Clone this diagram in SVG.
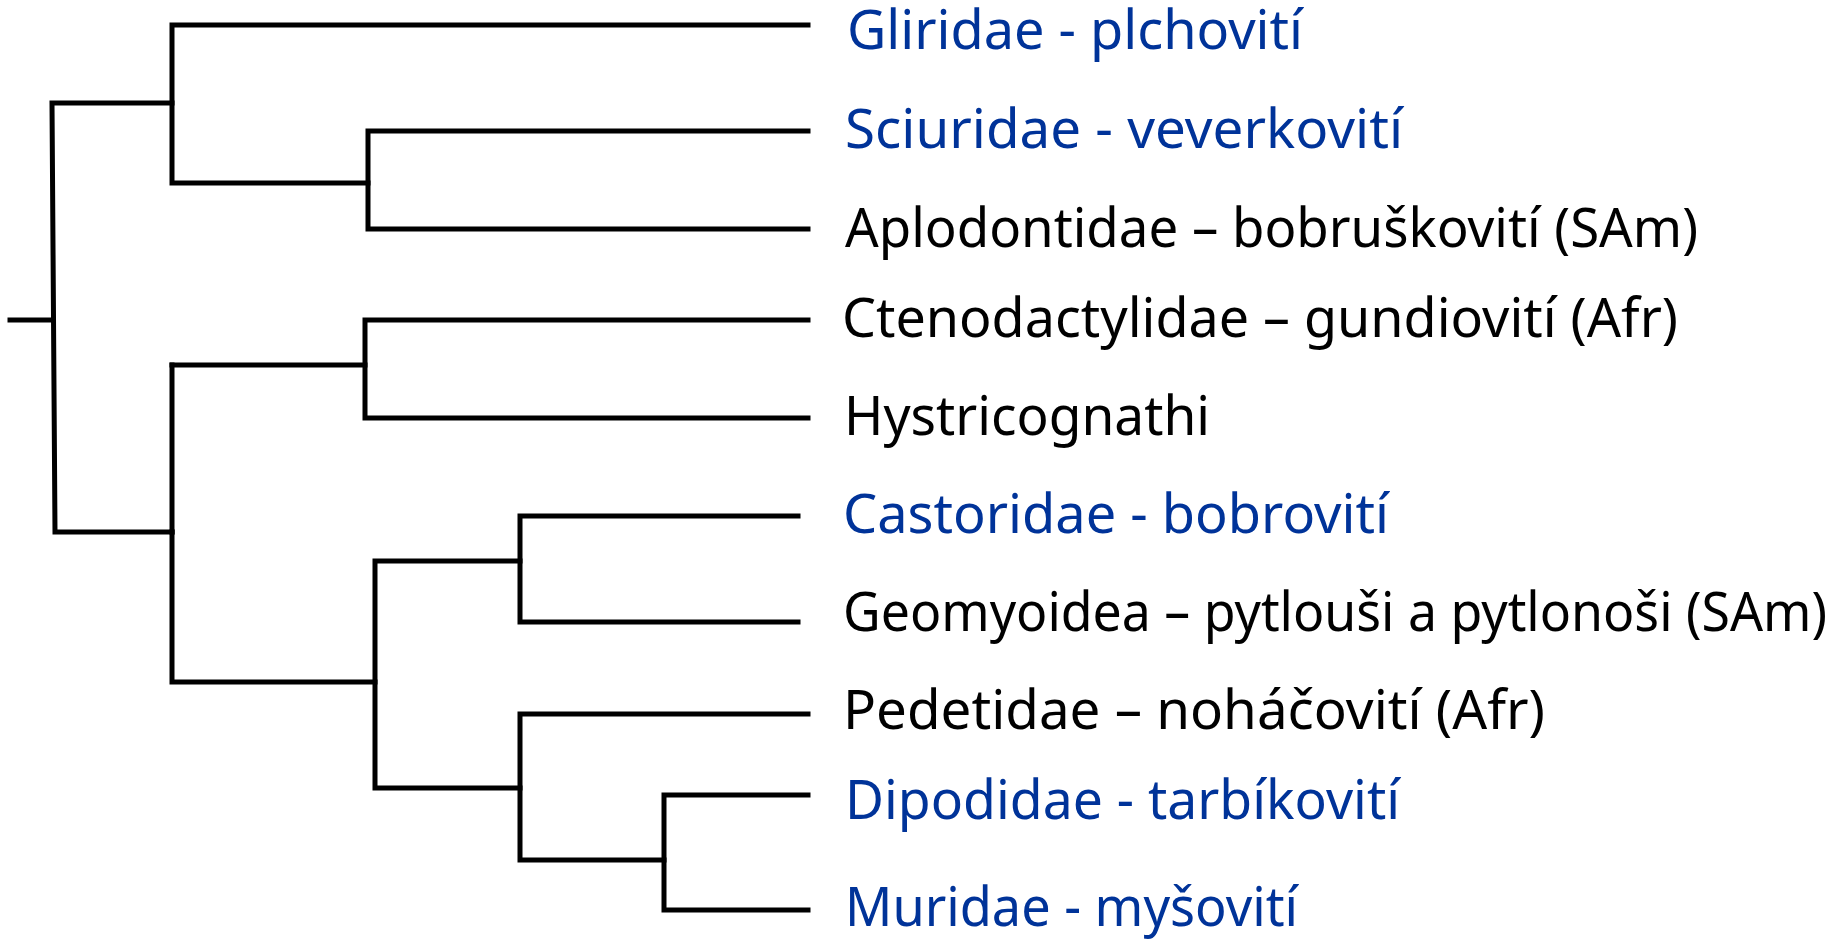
<svg xmlns="http://www.w3.org/2000/svg" width="1833" height="940" viewBox="0 0 1833 940">
<style>
.br{fill:none;stroke:#000;stroke-width:5;stroke-linecap:square;stroke-linejoin:miter}
.t{font-family:"Noto Sans","DejaVu Sans",sans-serif;font-size:54px}
.b{fill:#003399}
.k{fill:#000}
</style>
<rect width="1833" height="940" fill="#fff"/>
<g id="connectors">
<path class="br" d="M10 320 H52"/>
<path class="br" d="M172 103 H52 L55 532 H172"/>
<path class="br" d="M808 25 H172 V183 H368"/>
<path class="br" d="M808 131 H368 V229 H808"/>
<path class="br" d="M172 532 V365"/>
<path class="br" d="M172 365 H365"/>
<path class="br" d="M808 320 H365 V418 H808"/>
<path class="br" d="M172 532 V682 H375"/>
<path class="br" d="M520 561 H375 V788 H520"/>
<path class="br" d="M798 516 H520 V622 H798"/>
<path class="br" d="M808 714 H520 V860 H664"/>
<path class="br" d="M808 795 H664 V910 H808"/>
</g>
<g id="n1"><text class="t b" x="847" y="49" textLength="456" lengthAdjust="spacingAndGlyphs">Gliridae - plchovití</text></g>
<g id="n2"><text class="t b" x="845" y="148" textLength="558" lengthAdjust="spacingAndGlyphs">Sciuridae - veverkovití</text></g>
<g id="n3"><text class="t k" x="845" y="247" textLength="853" lengthAdjust="spacingAndGlyphs">Aplodontidae – bobruškovití (SAm)</text></g>
<g id="n4"><text class="t k" x="842" y="337" textLength="836" lengthAdjust="spacingAndGlyphs">Ctenodactylidae – gundiovití (Afr)</text></g>
<g id="n5"><text class="t k" x="844" y="435" textLength="366" lengthAdjust="spacingAndGlyphs">Hystricognathi</text></g>
<g id="n6"><text class="t b" x="843" y="533" textLength="546" lengthAdjust="spacingAndGlyphs">Castoridae - bobrovití</text></g>
<g id="n7"><text class="t k" x="843" y="631" textLength="984" lengthAdjust="spacingAndGlyphs">Geomyoidea – pytlouši a pytlonoši (SAm)</text></g>
<g id="n8"><text class="t k" x="843" y="729" textLength="702" lengthAdjust="spacingAndGlyphs">Pedetidae – noháčovití (Afr)</text></g>
<g id="n9"><text class="t b" x="845" y="819" textLength="555" lengthAdjust="spacingAndGlyphs">Dipodidae - tarbíkovití</text></g>
<g id="n10"><text class="t b" x="845" y="926" textLength="453" lengthAdjust="spacingAndGlyphs">Muridae - myšovití</text></g>
</svg>
